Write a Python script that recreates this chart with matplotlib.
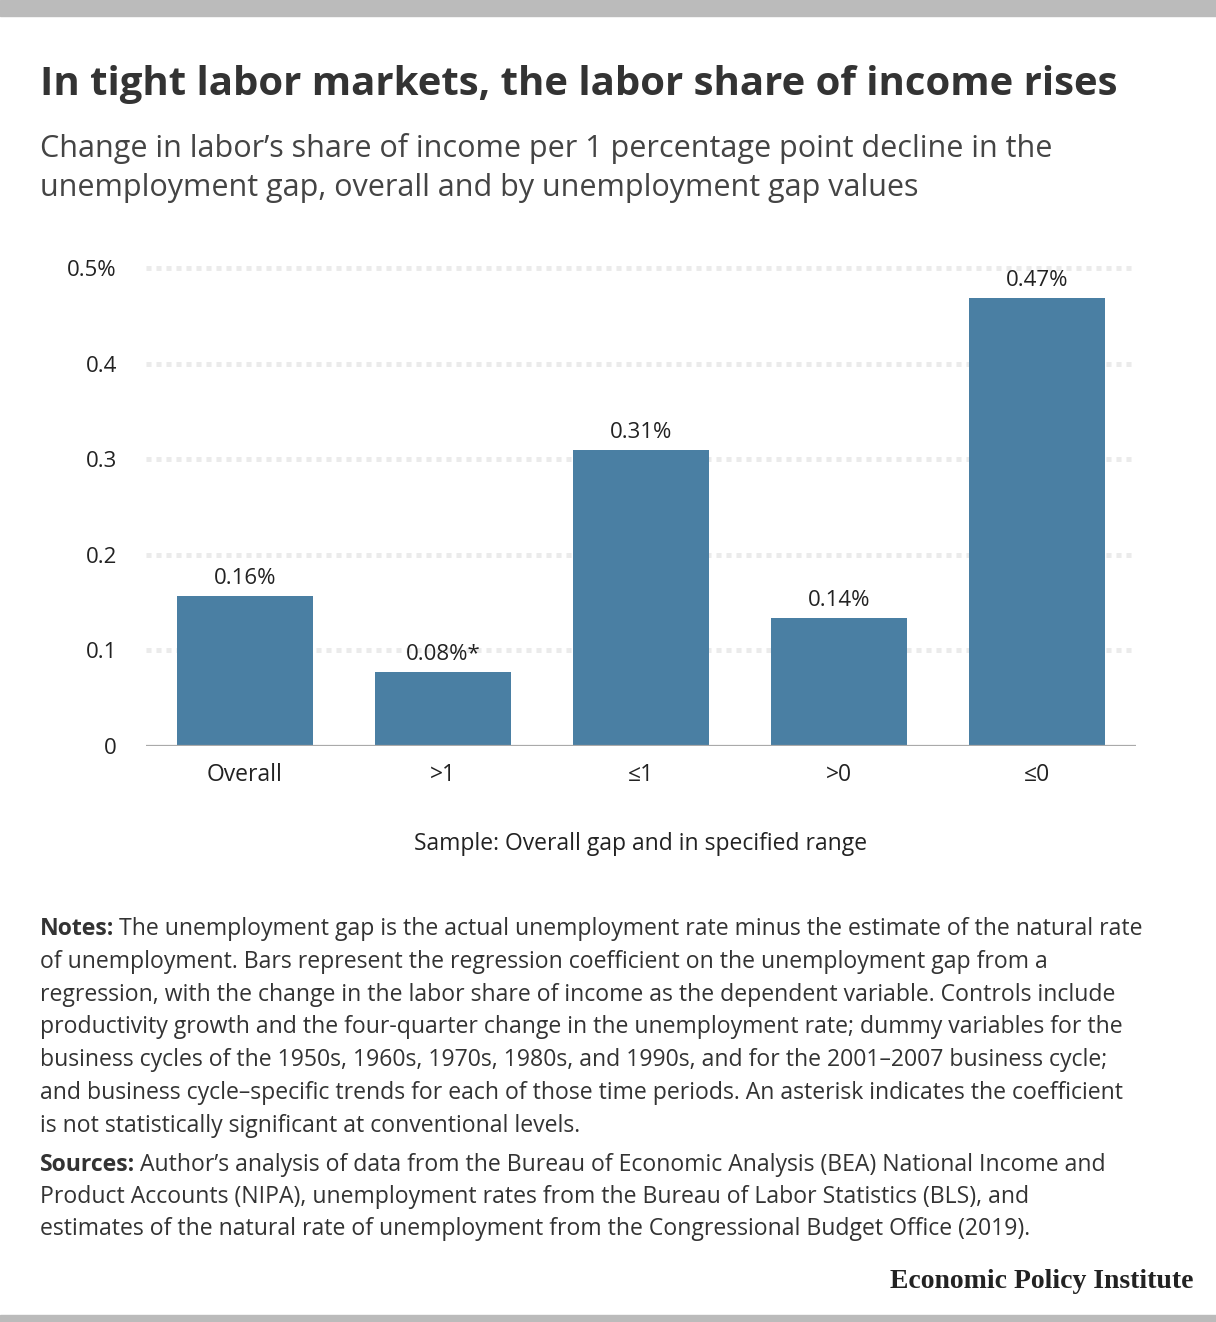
import matplotlib
matplotlib.use("Agg")
import matplotlib.pyplot as plt
from matplotlib.patches import Rectangle

plt.rcParams['font.family'] = ['Open Sans', 'DejaVu Sans']

# Datos del grafico
categories = ["Overall", ">1", "\u22641", ">0", "\u22640"]
values = [0.157, 0.077, 0.310, 0.134, 0.469]
value_labels = ["0.16%", "0.08%*", "0.31%", "0.14%", "0.47%"]
y_ticks = [0, 0.1, 0.2, 0.3, 0.4, 0.5]
y_tick_labels = ["0", "0.1", "0.2", "0.3", "0.4", "0.5%"]

title = "In tight labor markets, the labor share of income rises"
subtitle = ("Change in labor\u2019s share of income per 1 percentage point decline in the\n"
            "unemployment gap, overall and by unemployment gap values")
x_label = "Sample: Overall gap and in specified range"
notes = [
    "The unemployment gap is the actual unemployment rate minus the estimate of the natural rate",
    "of unemployment. Bars represent the regression coefficient on the unemployment gap from a",
    "regression, with the change in the labor share of income as the dependent variable. Controls include",
    "productivity growth and the four-quarter change in the unemployment rate; dummy variables for the",
    "business cycles of the 1950s, 1960s, 1970s, 1980s, and 1990s, and for the 2001\u20132007 business cycle;",
    "and business cycle\u2013specific trends for each of those time periods. An asterisk indicates the coefficient",
    "is not statistically significant at conventional levels.",
]
sources = [
    "Author\u2019s analysis of data from the Bureau of Economic Analysis (BEA) National Income and",
    "Product Accounts (NIPA), unemployment rates from the Bureau of Labor Statistics (BLS), and",
    "estimates of the natural rate of unemployment from the Congressional Budget Office (2019).",
]

W, H = 1216, 1322
fig = plt.figure(figsize=(W / 100, H / 100), dpi=100)
renderer = fig.canvas.get_renderer()

# Barras grises arriba y abajo
fig.patches.append(Rectangle((0, 1 - 16 / H), 1, 16 / H, transform=fig.transFigure,
                             color="#bbbbbb", zorder=0))
fig.patches.append(Rectangle((0, 0), 1, 7 / H, transform=fig.transFigure,
                             color="#bbbbbb", zorder=0))

ax = fig.add_axes([146 / W, (H - 746) / H, 990 / W, (746 - 268) / H])
x = list(range(len(categories)))
ax.bar(x, values, width=0.69, color="#4a7fa3", zorder=3)
for xi, v, lab in zip(x, values, value_labels):
    ax.annotate(lab, (xi, v), xytext=(0, 5), textcoords="offset points",
                ha="center", va="bottom", fontsize=16, color="#222222")

for t in y_ticks[1:]:
    ax.plot([-0.5, 4.475], [t, t], color="#ebebeb", lw=3.6, dashes=(1, 1),
            zorder=1, clip_on=False, solid_capstyle="butt", dash_capstyle="butt")
ax.axhline(0, color="#aaaaaa", lw=1.6, zorder=4)

ax.set_xlim(-0.5, 4.5)
ax.set_ylim(0, 0.5)
ax.set_xticks(x)
ax.set_xticklabels(categories, fontsize=16.5, color="#222222")
ax.set_yticks(y_ticks)
ax.set_yticklabels(y_tick_labels, fontsize=16, color="#222222")
ax.tick_params(axis="both", length=0)
ax.tick_params(axis="x", pad=12)
ax.tick_params(axis="y", pad=21)
for s in ax.spines.values():
    s.set_visible(False)

fig.text(641 / W, 1 - 844 / H, x_label, ha="center", va="center", fontsize=16.5, color="#222222")

fig.text(40 / W, 1 - 85 / H, title, ha="left", va="center", fontsize=28.9,
         fontweight="bold", color="#333333")
fig.text(40 / W, 1 - 168 / H, subtitle, ha="left", va="center", fontsize=22,
         color="#444444", linespacing=1.36)


def bloque(label, lines, y0, step):
    for i, line in enumerate(lines):
        y = 1 - (y0 + i * step) / H
        if i == 0:
            t = fig.text(40 / W, y, label, ha="left", va="center", fontsize=16.6,
                         fontweight="bold", color="#333333")
            bb = t.get_window_extent(renderer)
            fig.text((bb.x1 + 5) / W, y, line, ha="left", va="center", fontsize=16.6,
                     color="#333333")
        else:
            fig.text(40 / W, y, line, ha="left", va="center", fontsize=16.6, color="#333333")


# Notas y fuentes
bloque("Notes:", notes, 929, 32.8)
bloque("Sources:", sources, 1165, 32)

fig.text(1193 / W, 1 - 1281 / H, "Economic Policy Institute", ha="right", va="center",
         fontsize=20, fontweight="bold", family="Liberation Serif", color="#222222")

fig.savefig("out.png", dpi=100)
